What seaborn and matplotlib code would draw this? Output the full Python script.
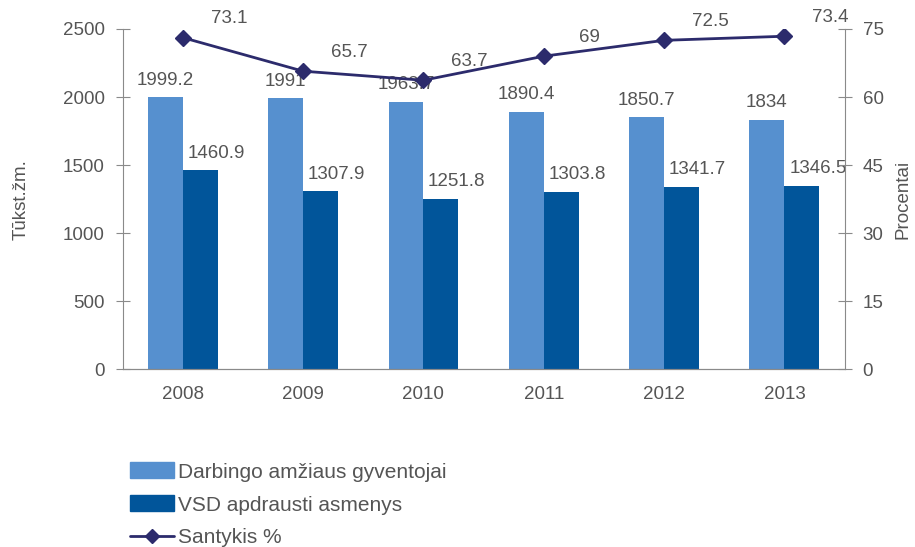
import pandas as pd
import numpy as np
import matplotlib
matplotlib.use('Agg')
from matplotlib import pyplot as plt
from matplotlib.lines import Line2D
from matplotlib.patches import Patch
import seaborn as sns

# data
years = ['2008', '2009', '2010', '2011', '2012', '2013']
darbingo = [1999.2, 1991, 1963.7, 1890.4, 1850.7, 1834]
vsd = [1460.9, 1307.9, 1251.8, 1303.8, 1341.7, 1346.5]
santykis = [73.1, 65.7, 63.7, 69, 72.5, 73.4]
labels = ['Darbingo amžiaus gyventojai', 'VSD apdrausti asmenys', 'Santykis %']

light = '#5690CF'
dark = '#01559A'
line_c = '#2C2B6C'
grey = '#555555'
ax_grey = '#8a8a8a'

sns.set_style('white')
plt.rcParams['font.family'] = ['Liberation Sans', 'DejaVu Sans']

df = pd.DataFrame({'year': years * 2,
                   'value': darbingo + vsd,
                   'series': [labels[0]] * 6 + [labels[1]] * 6})

fig = plt.figure(figsize=(9.15, 5.47), dpi=100)
ax = fig.add_axes([0.134, 0.325, 0.789, 0.622])
sns.barplot(data=df, x='year', y='value', hue='series', palette=[light, dark],
            width=0.58, saturation=1, linewidth=0, ax=ax, legend=False)
ax.set_ylim(0, 2500)
ax.set_xlim(-0.5, 5.5)
ax.set_yticks(range(0, 2501, 500))
ax.set_xlabel('')
ax.set_ylabel('Tūkst.žm.', fontsize=13.5, color=grey, labelpad=24)

# bar labels
for cont, vals, dx in zip(ax.containers, [darbingo, vsd], [0, 16]):
    for p, v in zip(cont.patches, vals):
        ax.annotate(f'{v:g}', (p.get_x() + p.get_width() / 2, p.get_height()),
                    xytext=(dx, 17), textcoords='offset pixels', ha='center',
                    va='center', fontsize=13.5, color=grey)

ax2 = ax.twinx()
ax2.plot(range(len(years)), santykis, color=line_c, lw=2, marker='D', ms=8)
ax2.set_ylim(0, 75)
ax2.set_yticks(range(0, 76, 15))
ax2.set_ylabel('Procentai', fontsize=13.5, color=grey, labelpad=8)
for i, v in enumerate(santykis):
    ax2.annotate(f'{v:g}', (i, v), xytext=(46, 19), textcoords='offset pixels',
                 ha='center', va='center', fontsize=13.5, color=grey)

for a in (ax, ax2):
    a.spines['top'].set_visible(False)
    for s in ['left', 'right', 'bottom']:
        a.spines[s].set_color(ax_grey)
    a.tick_params(axis='y', direction='inout', length=10, color=ax_grey,
                  labelsize=13.5, labelcolor=grey, pad=8)
ax.spines['right'].set_visible(False)
ax2.spines['left'].set_visible(False)

ax.set_xticks(np.arange(-0.5, 6, 1), minor=True)
ax.tick_params(axis='x', which='major', length=0, labelsize=13.5, labelcolor=grey, pad=12)
ax.tick_params(axis='x', which='minor', direction='inout', length=10, color=ax_grey)

handles = [Patch(color=light), Patch(color=dark),
           Line2D([0], [0], color=line_c, lw=2, marker='D', ms=7)]
fig.legend(handles, labels, loc='upper left', bbox_to_anchor=(0.133, 0.17),
           frameon=False, fontsize=15, labelcolor=grey, handlelength=2.1,
           handleheight=0.8, handletextpad=0.2, labelspacing=0.66, borderaxespad=0)

fig.savefig('out.png', dpi=100)
